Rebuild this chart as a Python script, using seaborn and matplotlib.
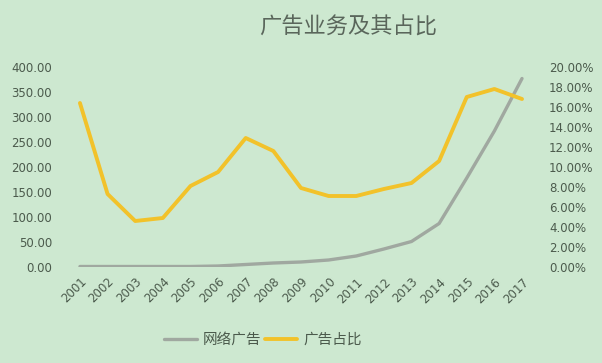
import matplotlib
matplotlib.use("Agg")
import matplotlib.pyplot as plt
import matplotlib.ticker as mticker
import seaborn as sns

years = list(range(2001, 2018))
online_ad = [1, 1, 1, 1, 1, 2, 5, 8, 10, 14, 22, 36, 51, 87, 178, 272, 377]
ad_share = [16.4, 7.3, 4.6, 4.9, 8.1, 9.5, 12.9, 11.6, 7.9, 7.1, 7.1, 7.8, 8.4, 10.6, 17.0, 17.8, 16.8]

bg = "#cde8d0"
txt = "#4b5a4c"

sns.set_theme(style="white")
# digits in DejaVu, Chinese falls back to Noto CJK
plt.rcParams["font.family"] = ["DejaVu Sans", "Noto Sans CJK SC"]

fig = plt.figure(figsize=(6.02, 3.63), dpi=100, facecolor=bg)
ax = fig.add_axes([70 / 602, 1 - 267 / 363, 465 / 602, 200 / 363])
ax.set_facecolor(bg)
ax2 = ax.twinx()

sns.lineplot(x=years, y=online_ad, ax=ax, color="#a0a8a0", linewidth=2.4, label="网络广告", legend=False)
sns.lineplot(x=years, y=ad_share, ax=ax2, color="#f2c22a", linewidth=2.8, label="广告占比", legend=False)

ax.set_xlim(2000.64, 2017.47)
ax.set_ylim(0, 400)
ax2.set_ylim(0, 20)
ax.set_xticks(years)
ax.set_xticklabels([str(y) for y in years], rotation=45, ha="right", rotation_mode="anchor")
ax.set_yticks(range(0, 401, 50))
ax.yaxis.set_major_formatter(mticker.FuncFormatter(lambda v, p: f"{v:.2f}"))
ax2.set_yticks(range(0, 21, 2))
ax2.yaxis.set_major_formatter(mticker.FuncFormatter(lambda v, p: f"{v:.2f}%"))

for a in (ax, ax2):
    for s in a.spines.values():
        s.set_visible(False)
    a.tick_params(length=0, labelsize=8.5, colors=txt)
    a.set_xlabel("")
    a.set_ylabel("")
ax.tick_params(axis="y", pad=13)
ax2.tick_params(axis="y", pad=10)
ax.tick_params(axis="x", pad=6)

fig.text(0.578, 0.925, "广告业务及其占比", ha="center", va="center", fontsize=16,
         color="#5a665b", fontweight="light", family=["Noto Sans CJK SC", "DejaVu Sans"])

h1, l1 = ax.get_legend_handles_labels()
h2, l2 = ax2.get_legend_handles_labels()
fig.legend(h1 + h2, l1 + l2, loc="center", bbox_to_anchor=(0.437, 0.063), ncol=2,
           frameon=False, labelcolor=txt, handlelength=2.2,
           columnspacing=0.3, handletextpad=0.4,
           prop={"family": ["Noto Sans CJK SC", "DejaVu Sans"], "size": 10.5})

fig.savefig("out.png", dpi=100, facecolor=bg)
